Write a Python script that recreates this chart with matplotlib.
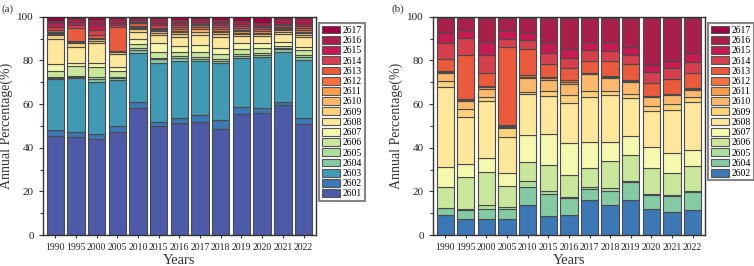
import numpy as np
import matplotlib
matplotlib.use("Agg")
import matplotlib.pyplot as plt
from matplotlib.patches import Patch
from matplotlib.ticker import MultipleLocator

plt.rcParams['font.family'] = ['Liberation Serif', 'DejaVu Serif']

years = ['1990', '1995', '2000', '2005', '2010', '2015', '2016',
         '2017', '2018', '2019', '2020', '2021', '2022']

# Panel (a): categories 2601..2617 ; cumulative top (%) of each segment, last = 100
cats_a = ['2601', '2602', '2603', '2604', '2605', '2606', '2607', '2608', '2609',
          '2610', '2611', '2612', '2613', '2614', '2615', '2616', '2617']
top_a = [
    [45.3, 48.2, 71.3, 72.0, 72.6, 75.3, 78.3, 89.6, 91.5, 92.1, 92.4, 93.0, 93.9, 95.4, 97.0, 98.2, 100],
    [44.7, 47.0, 71.8, 72.5, 73.0, 77.4, 79.0, 86.3, 87.8, 88.4, 88.6, 88.8, 94.7, 96.2, 97.7, 98.8, 100],
    [43.8, 46.1, 70.2, 71.5, 72.2, 76.8, 79.0, 87.8, 88.9, 89.6, 90.1, 90.4, 91.6, 93.9, 96.2, 98.5, 100],
    [47.3, 49.8, 71.0, 71.8, 72.5, 75.1, 77.1, 82.8, 83.7, 84.0, 84.2, 84.4, 95.4, 96.2, 97.3, 98.8, 100],
    [58.2, 60.8, 83.2, 84.7, 85.5, 87.3, 89.6, 93.1, 94.2, 95.0, 95.3, 95.6, 97.2, 97.7, 98.3, 99.1, 100],
    [49.9, 51.9, 78.6, 80.5, 80.9, 84.0, 87.8, 91.6, 92.7, 93.4, 93.8, 94.2, 95.0, 96.2, 97.3, 98.8, 100],
    [51.2, 53.4, 79.9, 81.2, 82.0, 84.0, 86.6, 90.9, 92.1, 93.1, 93.6, 94.2, 95.1, 96.2, 97.3, 98.7, 100],
    [51.6, 54.8, 79.9, 80.6, 81.7, 84.0, 87.0, 91.6, 93.1, 94.2, 94.6, 95.3, 96.2, 96.9, 97.7, 98.8, 100],
    [48.7, 52.5, 78.6, 79.9, 80.6, 82.9, 85.5, 90.9, 92.1, 93.1, 93.4, 94.2, 95.1, 96.2, 97.0, 98.5, 100],
    [55.3, 58.8, 80.9, 82.0, 82.9, 85.1, 87.8, 91.2, 92.1, 92.7, 93.4, 94.0, 94.7, 95.7, 96.9, 98.2, 100],
    [55.9, 58.3, 81.7, 82.5, 83.2, 85.5, 87.8, 91.2, 92.1, 92.7, 93.3, 93.6, 94.2, 95.1, 95.7, 97.0, 100],
    [59.4, 61.1, 84.0, 85.1, 85.5, 86.6, 88.6, 92.1, 93.1, 93.9, 94.3, 94.9, 95.4, 96.2, 96.6, 98.8, 100],
    [50.8, 53.4, 80.2, 81.7, 82.5, 84.7, 86.3, 90.5, 91.6, 92.4, 93.1, 93.9, 95.0, 95.9, 96.7, 98.8, 100],
]

# Panel (b): categories 2602, 2604..2617 ; cumulative top (%) of each segment
cats_b = ['2602', '2604', '2605', '2606', '2607', '2608', '2609', '2610',
          '2611', '2612', '2613', '2614', '2615', '2616', '2617']
top_b = [
    [9.0, 12.2, 12.4, 21.8, 31.2, 67.6, 70.7, 74.1, 74.8, 75.3, 80.5, 87.8, 92.6, 99.6, 100],
    [7.3, 11.4, 11.9, 26.7, 32.4, 54.2, 57.7, 61.4, 62.0, 62.4, 82.7, 90.1, 94.0, 99.6, 100],
    [7.3, 12.0, 13.6, 29.0, 35.5, 61.5, 63.1, 66.9, 67.8, 68.4, 74.4, 82.5, 88.6, 99.6, 100],
    [7.2, 11.8, 13.0, 22.4, 28.5, 45.0, 48.9, 49.4, 49.9, 50.3, 86.0, 89.8, 93.9, 99.4, 100],
    [13.7, 22.1, 24.9, 33.3, 45.8, 64.4, 65.6, 71.8, 72.5, 73.3, 85.0, 89.3, 93.1, 99.6, 100],
    [8.9, 18.8, 20.3, 32.1, 46.3, 63.7, 66.1, 71.0, 71.8, 72.5, 78.3, 83.5, 88.1, 99.6, 100],
    [9.2, 16.8, 17.6, 27.5, 42.3, 60.6, 64.1, 69.2, 70.0, 71.0, 76.4, 81.2, 85.0, 99.6, 100],
    [16.0, 21.0, 22.1, 30.5, 42.5, 63.1, 66.1, 73.6, 74.0, 74.4, 79.9, 84.7, 88.3, 99.6, 100],
    [13.7, 20.3, 21.4, 34.0, 42.8, 64.1, 66.1, 71.8, 72.3, 72.8, 79.9, 84.4, 88.6, 99.6, 100],
    [16.0, 24.4, 24.9, 36.6, 45.4, 62.6, 64.6, 70.2, 70.6, 71.0, 78.3, 82.5, 86.0, 99.6, 100],
    [11.8, 18.3, 18.6, 30.5, 40.2, 56.9, 59.1, 63.1, 63.4, 63.7, 69.8, 74.8, 77.9, 99.6, 100],
    [10.4, 18.0, 18.3, 28.2, 37.4, 57.3, 59.9, 64.1, 64.4, 64.7, 71.3, 76.4, 79.7, 99.6, 100],
    [11.5, 19.9, 20.2, 31.8, 38.9, 61.1, 63.1, 66.4, 66.8, 67.2, 74.4, 79.4, 83.2, 99.6, 100],
]

colors = {
    '2601': '#4c5aa8', '2602': '#3c78b5', '2603': '#419ab4', '2604': '#84cba3',
    '2605': '#acdf9e', '2606': '#c9e79b', '2607': '#f5f9ad', '2608': '#fee69a',
    '2609': '#fed27a', '2610': '#fdb96b', '2611': '#fb9e4a', '2612': '#f6733f',
    '2613': '#ea5a3d', '2614': '#d6404e', '2615': '#c51b50', '2616': '#a8204a',
    '2617': '#9e0142',
}

EDGE = '#4a4a4a'
fig = plt.figure(figsize=(7.54, 2.66), dpi=100)
ax_a = fig.add_axes([0.057, 0.1165, 0.362, 0.8205])
ax_b = fig.add_axes([0.574, 0.1165, 0.361, 0.8205])


def draw(ax, cats, tops, label, leg_anchor):
    tops = np.array(tops)
    x = np.arange(len(years))
    prev = np.zeros(len(years))
    for j, c in enumerate(cats):
        h = tops[:, j] - prev
        ax.bar(x, h, bottom=prev, width=0.84, color=colors[c], edgecolor=EDGE,
               linewidth=0.8)
        prev = tops[:, j]
    ax.set_xlim(-0.6, len(years) - 0.4)
    ax.set_ylim(0, 100)
    ax.set_xticks(x)
    ax.set_xticklabels(years, fontsize=7)
    ax.yaxis.set_major_locator(MultipleLocator(20))
    ax.yaxis.set_minor_locator(MultipleLocator(10))
    ax.tick_params(axis='y', labelsize=8, direction='out', length=3, width=0.8,
                   colors='#333333', labelcolor='#222222')
    ax.tick_params(axis='y', which='minor', length=2, width=0.8, colors='#333333')
    ax.tick_params(axis='x', direction='out', length=2.5, width=0.8, pad=3,
                   colors='#333333', labelcolor='#222222')
    for s in ax.spines.values():
        s.set_color('#333333')
        s.set_linewidth(1.0)
    ax.set_ylabel('Annual Percentage(%)', fontsize=10, color='#333333', labelpad=3)
    ax.set_xlabel('Years', fontsize=10.5, color='#333333', labelpad=2)
    handles = [Patch(facecolor=colors[c], edgecolor='#555555', linewidth=0.8, label=c)
               for c in cats[::-1]]
    leg = ax.legend(handles=handles, loc='upper left', bbox_to_anchor=leg_anchor,
                    fontsize=7, frameon=True, fancybox=False, borderpad=0.25,
                    labelspacing=0.1, handlelength=1.9, handleheight=0.85,
                    handletextpad=0.3, borderaxespad=0.0)
    leg.get_frame().set_edgecolor('#666666')
    leg.get_frame().set_linewidth(1.5)
    fig.text(ax.get_position().x0 - 0.055, 0.965, label, fontsize=8,
             color='#333333', va='center', ha='left')


draw(ax_a, cats_a, top_a, '(a)', (1.012, 0.97))
draw(ax_b, cats_b, top_b, '(b)', (1.012, 0.97))

fig.savefig('out.png', dpi=100)
